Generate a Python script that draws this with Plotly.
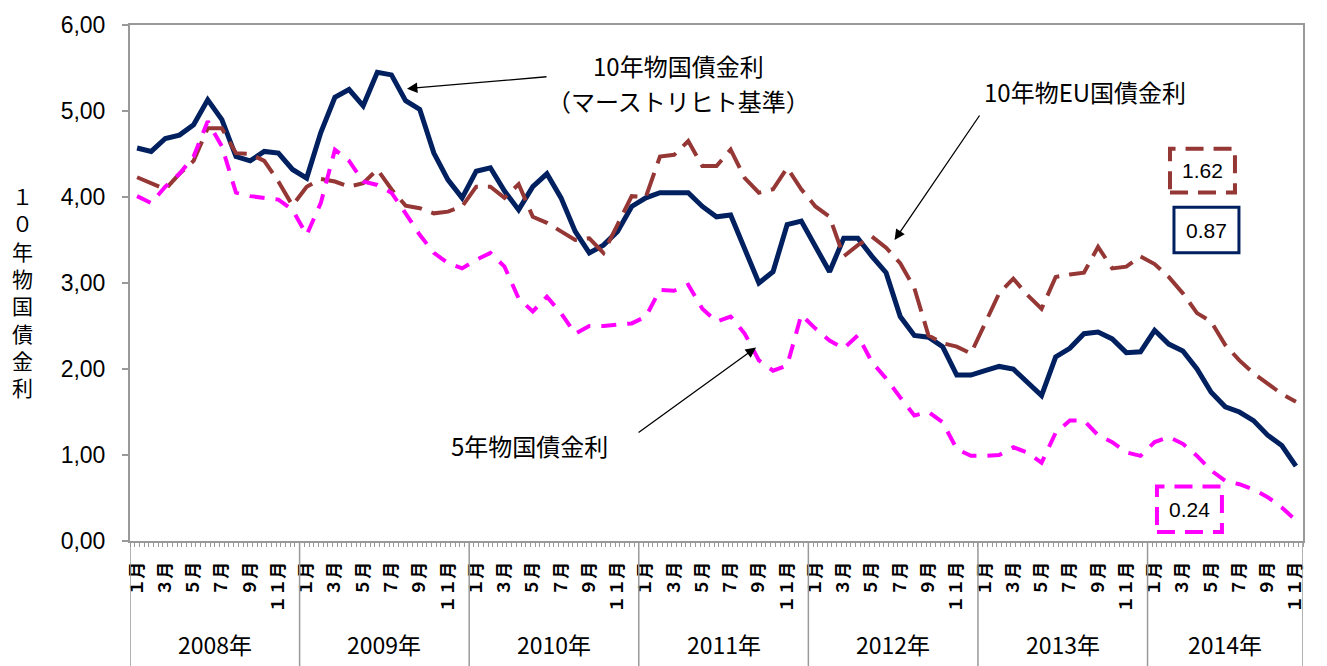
import plotly.graph_objects as go

# ---------------- data ----------------
years = ["2008年", "2009年", "2010年", "2011年", "2012年", "2013年", "2014年"]
months_per_year = [12, 12, 12, 12, 12, 12, 11]
month_labels = ["１月", "２月", "３月", "４月", "５月", "６月", "７月", "８月", "９月", "１０月", "１１月", "１２月"]

# 10年物国債金利（マーストリヒト基準）
yield10_maastricht = [4.57, 4.53, 4.68, 4.72, 4.84, 5.13, 4.90, 4.47, 4.42, 4.53, 4.51, 4.32,
                      4.22, 4.75, 5.16, 5.25, 5.06, 5.45, 5.42, 5.12, 5.02, 4.51, 4.20, 3.99,
                      4.30, 4.34, 4.07, 3.85, 4.12, 4.27, 3.99, 3.60, 3.35, 3.44, 3.60, 3.89,
                      3.99, 4.05, 4.05, 4.05, 3.89, 3.77, 3.79, 3.40, 3.00, 3.13, 3.68, 3.72,
                      3.42, 3.13, 3.52, 3.52, 3.31, 3.12, 2.61, 2.39, 2.37, 2.26, 1.93, 1.93,
                      1.98, 2.03, 2.00, 1.84, 1.69, 2.14, 2.24, 2.41, 2.43, 2.35, 2.19, 2.20,
                      2.45, 2.29, 2.21, 2.00, 1.73, 1.56, 1.50, 1.40, 1.23, 1.11, 0.87]

# 10年物EU国債金利
yield10_eu = [4.23, 4.16, 4.09, 4.27, 4.42, 4.80, 4.80, 4.51, 4.50, 4.42, 4.18, 3.90,
              4.12, 4.21, 4.18, 4.12, 4.16, 4.32, 4.09, 3.90, 3.87, 3.81, 3.83, 3.89,
              4.12, 4.12, 3.99, 4.15, 3.77, 3.70, 3.60, 3.50, 3.52, 3.35, 3.68, 4.01,
              4.00, 4.47, 4.49, 4.65, 4.36, 4.36, 4.55, 4.22, 4.05, 4.09, 4.34, 4.09,
              3.89, 3.77, 3.31, 3.44, 3.54, 3.41, 3.23, 2.94, 2.39, 2.30, 2.26, 2.18,
              2.53, 2.88, 3.05, 2.86, 2.70, 3.07, 3.10, 3.12, 3.42, 3.17, 3.19, 3.31,
              3.22, 3.07, 2.88, 2.65, 2.55, 2.28, 2.10, 1.95, 1.83, 1.71, 1.62]

# 5年物国債金利
yield5 = [4.01, 3.93, 4.12, 4.27, 4.47, 4.88, 4.59, 4.05, 4.01, 3.99, 3.97, 3.85,
          3.56, 3.93, 4.55, 4.42, 4.18, 4.14, 4.05, 3.81, 3.56, 3.35, 3.23, 3.17,
          3.27, 3.35, 3.19, 2.82, 2.67, 2.84, 2.65, 2.41, 2.50, 2.50, 2.51, 2.53,
          2.61, 2.92, 2.91, 2.98, 2.70, 2.55, 2.61, 2.41, 2.10, 1.98, 2.04, 2.63,
          2.47, 2.33, 2.24, 2.39, 2.08, 1.89, 1.67, 1.46, 1.50, 1.38, 1.07, 0.99,
          0.99, 1.00, 1.09, 1.03, 0.91, 1.26, 1.40, 1.40, 1.23, 1.15, 1.03, 0.99,
          1.15, 1.21, 1.13, 0.99, 0.82, 0.70, 0.66, 0.60, 0.51, 0.39, 0.24]

y_ticks = [0, 1, 2, 3, 4, 5, 6]

# ---------------- derived ----------------
n = sum(months_per_year)
x = list(range(n))
tickvals, ticktext = [], []
idx = 0
year_bounds = [-0.5]
year_centers = []
for ny in months_per_year:
    for m in range(ny):
        if m % 2 == 0:
            tickvals.append(idx)
            ticktext.append(month_labels[m])
        idx += 1
    year_centers.append(idx - ny / 2 - 0.5)
    year_bounds.append(idx - 0.5)

NAVY = "#002060"
BROWN = "#953735"
MAGENTA = "#FF00FF"
JP = "Noto Sans CJK JP"
NUM = "Liberation Sans"

fig = go.Figure()
fig.add_trace(go.Scatter(x=x, y=yield10_maastricht, mode="lines",
                         line=dict(color=NAVY, width=5), name="10年物国債金利"))
fig.add_trace(go.Scatter(x=x, y=yield10_eu, mode="lines",
                         line=dict(color=BROWN, width=4, dash="24px,10px"), name="10年物EU国債金利"))
fig.add_trace(go.Scatter(x=x, y=yield5, mode="lines",
                         line=dict(color=MAGENTA, width=4, dash="15px,11px"), name="5年物国債金利"))

shapes = []
for b in year_bounds:
    shapes.append(dict(type="line", xref="x", yref="paper", x0=b, x1=b, y0=0, y1=-0.26,
                       line=dict(color="#999999", width=1.5)))

# value boxes
def box(x0, x1, y0, y1, color, dash, width):
    return dict(type="rect", xref="paper", yref="paper", x0=x0, x1=x1, y0=y0, y1=y1,
                line=dict(color=color, width=width, dash=dash), fillcolor="white", layer="above")

boxes = [
    ((0.8866, 0.9420, 0.6756, 0.7601), BROWN, "18px,10px", 4, yield10_eu[-1]),
    ((0.8900, 0.9454, 0.5585, 0.6468), NAVY, "solid", 3, yield10_maastricht[-1]),
    ((0.8755, 0.9309, 0.0173, 0.1056), MAGENTA, "18px,10px", 4, yield5[-1]),
]

annotations = []
for (x0, x1, y0, y1), col, dash, w, val in boxes:
    shapes.append(box(x0, x1, y0, y1, col, dash, w))
    annotations.append(dict(x=(x0 + x1) / 2, y=(y0 + y1) / 2, xref="paper", yref="paper",
                            xanchor="center", yanchor="middle",
                            text=f"{val:.2f}", showarrow=False,
                            font=dict(family=NUM, size=21, color="black")))

for yc, yl in zip(year_centers, years):
    annotations.append(dict(x=yc, y=-0.2, xref="x", yref="paper", text=yl, showarrow=False,
                            xanchor="center", yanchor="middle",
                            font=dict(family=JP, size=23, color="black")))

# y-axis title (vertical)
annotations.append(dict(x=-0.092, y=0.484, xref="paper", yref="paper",
                        text="<br>".join(list("１０年物国債金利")), showarrow=False,
                        xanchor="center", yanchor="middle",
                        font=dict(family=JP, size=21, color="black")))

# series labels
label_font = dict(family=JP, size=24, color="black")
for tx, ty, tt in [(0.4672, 0.9213, "10年物国債金利"),
                   (0.4672, 0.8541, "（マーストリヒト基準）"),
                   (0.8142, 0.8704, "10年物EU国債金利"),
                   (0.341, 0.1843, "5年物国債金利")]:
    annotations.append(dict(x=tx, y=ty, xref="paper", yref="paper", text=tt, showarrow=False,
                            xanchor="center", yanchor="middle", font=label_font))

# arrows
for tx, ty, ax, ay in [(19.1, 5.26, 141, -12), (53.6, 3.50, 86, -126), (43.8, 2.25, -119, 86)]:
    annotations.append(dict(x=tx, y=ty, xref="x", yref="y", ax=ax, ay=ay, axref="pixel", ayref="pixel",
                            text="", showarrow=True, arrowhead=2, arrowsize=1.6, arrowwidth=1.3,
                            arrowcolor="black"))

fig.update_layout(
    width=1327, height=666,
    margin=dict(l=130, r=24, t=20, b=125),
    paper_bgcolor="white", plot_bgcolor="white",
    showlegend=False,
    separators=", ",
    shapes=shapes,
    annotations=annotations,
    xaxis=dict(range=[-0.5, n - 0.5], tickmode="array", tickvals=tickvals, ticktext=ticktext,
               tickangle=-90, ticks="", showgrid=False, zeroline=False,
               showline=True, linecolor="#999999", linewidth=2, mirror=True,
               tickfont=dict(family=JP, size=17, color="black", weight="bold"),
               ticklabelstandoff=12,
               minor=dict(ticks="outside", tick0=-0.5, dtick=1 / 3, ticklen=4,
                          tickcolor="#999999", tickwidth=1, showgrid=False)),
    yaxis=dict(range=[0, 6], tickmode="array", tickvals=y_ticks, tickformat=".2f",
               ticks="outside", ticklen=6, tickcolor="#999999", tickwidth=1.5,
               showgrid=False, zeroline=False, showline=True, linecolor="#999999",
               linewidth=2, mirror=True,
               tickfont=dict(family=NUM, size=23, color="black"),
               ticklabelstandoff=12),
)

fig.write_html("out.html", config={"displayModeBar": False},
               post_script="document.body.style.margin='0';document.body.style.overflow='hidden';")
